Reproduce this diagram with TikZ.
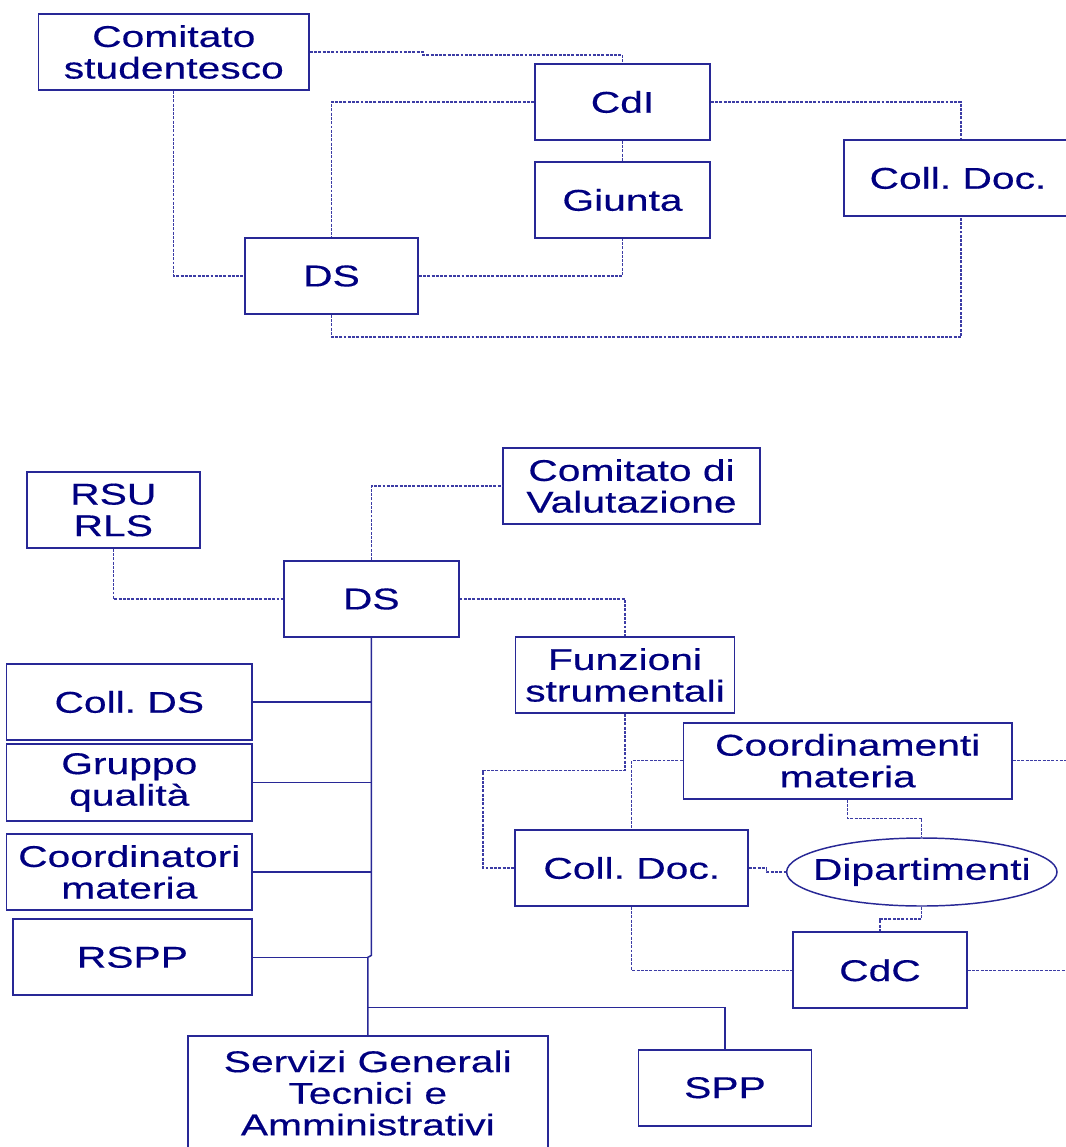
\documentclass[tikz,border=0pt]{standalone}
\usepackage{fontspec}
\setmainfont[FakeStretch=1.36,FakeBold=0.4]{Liberation Sans}
\usetikzlibrary{shapes.geometric}
\definecolor{txtc}{RGB}{0,0,128}
\definecolor{edgec}{RGB}{40,40,150}
\definecolor{linec}{RGB}{60,60,165}
\begin{document}
\frenchspacing
\begin{tikzpicture}[x=0.75pt,y=-0.75pt,
  bx/.style 2 args={draw=edgec, line width=1.3pt, rectangle, inner sep=0pt,
    minimum width=#1*0.75pt, minimum height=#2*0.75pt, text=txtc, align=center,
    font=\fontsize{22.5}{23.7}\selectfont\frenchspacing},
  ell/.style={draw=edgec, line width=1.1pt, ellipse, inner sep=0pt,
    minimum width=270.4*0.75pt, minimum height=68*0.75pt, text=txtc,
    font=\fontsize{22.5}{23.7}\selectfont},
  dotline/.style={draw=linec, line width=0.85pt, dash pattern=on 2.2pt off 1pt},
  solidline/.style={draw=edgec, line width=1.1pt}]
\useasboundingbox (0,0) rectangle (1066,1147);
\clip (0,0) rectangle (1066,1147);
\fill[white] (0,0) rectangle (1066,1147);

% ---------- top chart ----------
\node[bx={270.5}{76}] (cs) at (173.8,52) {Comitato\\studentesco};
\node[bx={175}{76}] (cdi) at (622.5,102) {CdI};
\node[bx={175}{76}] (giunta) at (622.5,200) {Giunta};
\node[bx={173}{76}] (dsa) at (331.5,276) {DS};
\node[bx={228}{76}] (cda) at (958,178) {Coll. Doc.};

\draw[dotline] (cs.east) -- (423,52) -- (423,55) -| (cdi.north);
\draw[dotline] (cdi.west) -| (dsa.north);
\draw[dotline] (cs.south) |- (dsa.west);
\draw[dotline] (dsa.east) -| (giunta.south);
\draw[dotline] (cdi.south) -- (giunta.north);
\draw[dotline] (cdi.east) -| ([xshift=2.25pt]cda.north);
\draw[dotline] (dsa.south) |- (700,337) -| ([xshift=2.25pt]cda.south);

% ---------- bottom chart ----------
\node[bx={172.7}{76}] (rsu) at (113.3,510) {RSU\\RLS};
\node[bx={174.7}{76}] (dsb) at (371.3,599) {DS};
\node[bx={257}{76}] (cv) at (631.5,486) {Comitato di\\Valutazione};
\node[bx={219}{76}] (fs) at (625,675) {Funzioni\\strumentali};
\node[bx={245.5}{76}] (collds) at (129.3,702) {Coll. DS};
\node[bx={245.5}{76.4}] (gq) at (129.3,782.5) {Gruppo\\qualità};
\node[bx={245.5}{76}] (crm) at (129.3,872) {Coordinatori\\materia};
\node[bx={239.3}{76}] (rspp) at (132.4,957.3) {RSPP};
\node[bx={360}{114}] (sga) at (367.8,1093) {Servizi Generali\\Tecnici e\\Amministrativi};
\node[bx={173}{76}] (spp) at (725,1087.7) {SPP};
\node[bx={328.6}{76}] (cdm) at (847.7,760.7) {Coordinamenti\\materia};
\node[bx={233}{76}] (cdb) at (631.8,868) {Coll. Doc.};
\node[ell] (dip) at (921.8,872) {\makebox[0pt]{Dipartimenti}};
\node[bx={174}{76}] (cdc) at (880,970.3) {CdC};

\coordinate (cdmR) at (1070,760.7);
\coordinate (cdcR) at (1070,970.3);
\coordinate (tk1) at (371.3,955.5);
\coordinate (tk2) at (367.8,957.3);
\coordinate (tk3) at (367.8,1007.7);

% solid hierarchy
\draw[solidline] (dsb.south) -- (tk1) -- (tk2) -- (sga.north);
\draw[solidline] (collds.east) -- (collds.east -| dsb.south);
\draw[solidline] (gq.east) -- (gq.east -| dsb.south);
\draw[solidline] (crm.east) -- (crm.east -| dsb.south);
\draw[solidline] (rspp.east) -- (tk2);
\draw[solidline] (tk3) -| (spp.north);

% dotted relations
\draw[dotline] (dsb.north) |- (cv.west);
\draw[dotline] (rsu.south) |- (dsb.west);
\draw[dotline] (dsb.east) -| (fs.north);
\draw[dotline] (fs.south) |- (483,770.7) |- (cdb.west);
\draw[dotline] (cdm.west) -| (cdb.north);
\draw[dotline] (cdm.east) -- (cdmR);
\draw[dotline] (cdm.south) |- (880,818.3) -| (dip.north);
\draw[dotline] (cdb.east) -- (766.5,868) -- (766.5,872) -- (dip.west);
\draw[dotline] (dip.south) |- (900,919) -| (cdc.north);
\draw[dotline] (cdb.south) |- (cdc.west);
\draw[dotline] (cdc.east) -- (cdcR);
\end{tikzpicture}
\end{document}
